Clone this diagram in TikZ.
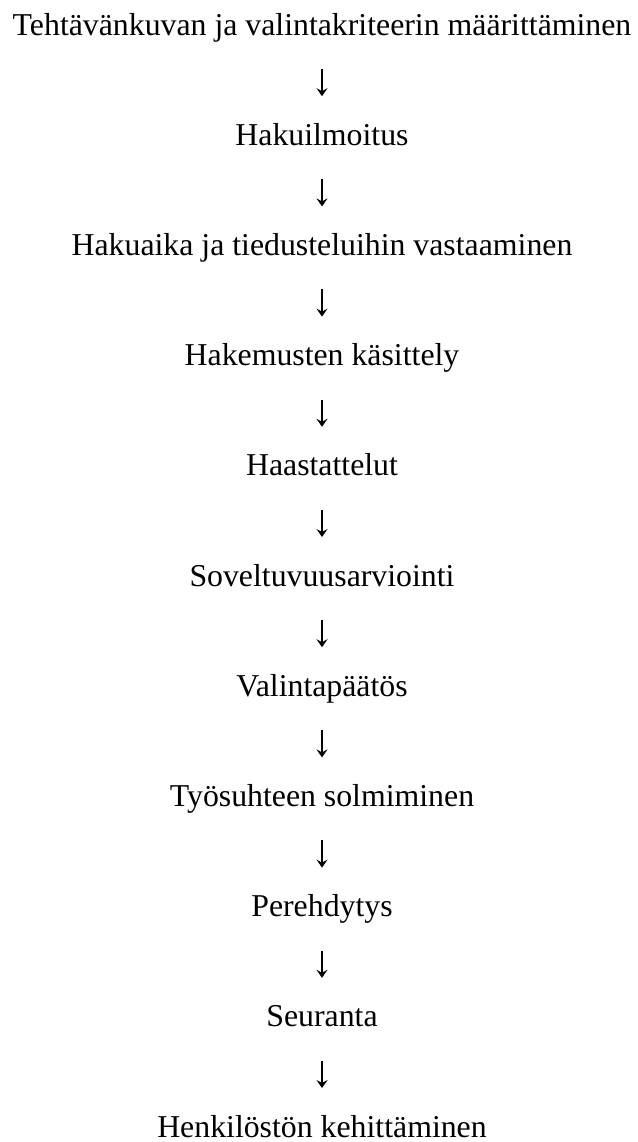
\documentclass[tikz,border=0pt]{standalone}
\usepackage{fontspec}
\setmainfont{Liberation Serif}
\usepackage{tikz}
\usetikzlibrary{arrows.meta, positioning}

\begin{document}
\begin{tikzpicture}[
    stage/.style={inner sep=0pt, outer sep=0pt, text height=11pt, text depth=3.5pt,
                  font=\fontsize{15.9pt}{19pt}\selectfont},
    arrow/.style={-{Stealth[length=4pt, width=5.5pt, inset=1.5pt]}, line width=0.6pt,
                  shorten <=13.5pt, shorten >=13.5pt},
]
\useasboundingbox (0,0) rectangle (319pt,-571pt);

% Stages of the recruitment process
\node[stage, anchor=base] (s0) at (161pt,-17.5pt) {Tehtävänkuvan ja valintakriteerin määrittäminen};
\node[stage, below=40.6pt of s0] (s1) {Hakuilmoitus};
\node[stage, below=40.6pt of s1] (s2) {Hakuaika ja tiedusteluihin vastaaminen};
\node[stage, below=40.6pt of s2] (s3) {Hakemusten käsittely};
\node[stage, below=40.6pt of s3] (s4) {Haastattelut};
\node[stage, below=40.6pt of s4] (s5) {Soveltuvuusarviointi};
\node[stage, below=40.6pt of s5] (s6) {Valintapäätös};
\node[stage, below=40.6pt of s6] (s7) {Työsuhteen solmiminen};
\node[stage, below=40.6pt of s7] (s8) {Perehdytys};
\node[stage, below=40.6pt of s8] (s9) {Seuranta};
\node[stage, below=40.6pt of s9] (s10) {Henkilöstön kehittäminen};

% Arrows between stages
\draw[arrow] (s0) -- (s1);
\draw[arrow] (s1) -- (s2);
\draw[arrow] (s2) -- (s3);
\draw[arrow] (s3) -- (s4);
\draw[arrow] (s4) -- (s5);
\draw[arrow] (s5) -- (s6);
\draw[arrow] (s6) -- (s7);
\draw[arrow] (s7) -- (s8);
\draw[arrow] (s8) -- (s9);
\draw[arrow] (s9) -- (s10);

\end{tikzpicture}
\end{document}
